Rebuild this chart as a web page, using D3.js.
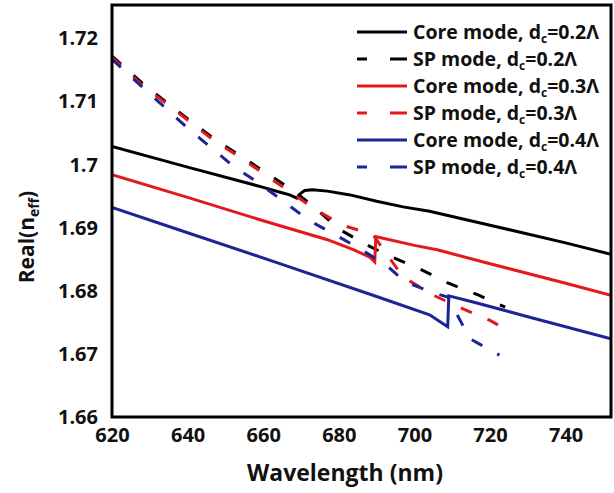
<!DOCTYPE html>
<html>
<head>
<meta charset="utf-8">
<script src="https://cdn.jsdelivr.net/npm/d3@7"></script>
<style>
body { margin: 0; background: #fff; }
text { font-family: "Open Sans", sans-serif; font-weight: bold; fill: #111; }
</style>
</head>
<body>
<svg width="614" height="493"></svg>
<script>
// values (wavelength in nm, Real(neff))
var wlCore02 = [620, 640, 660, 664, 667, 668.9, 670, 671, 673, 677, 683, 690, 697, 704, 720, 740, 752];
var nCore02  = [1.7029, 1.6996, 1.6964, 1.6957, 1.6952, 1.6947, 1.6955, 1.6959, 1.6960, 1.6958, 1.6952, 1.6942, 1.6933, 1.6926, 1.6904, 1.6876, 1.6858];

var wlSP02 = [620, 628, 635, 641, 647, 655, 661, 668, 674, 680, 687, 693, 701, 709, 717, 724];
var nSP02  = [1.7172, 1.7129, 1.7096, 1.7068, 1.7041, 1.7010, 1.6986, 1.6959, 1.6930, 1.6898, 1.6874, 1.6856, 1.6836, 1.6812, 1.6793, 1.6774];

var wlCore03 = [620, 640, 660, 677, 684, 688.3, 689.5, 689.8, 692, 700, 706, 720, 740, 752];
var nCore03  = [1.6984, 1.6948, 1.6911, 1.6881, 1.6865, 1.6853, 1.6846, 1.6886, 1.6883, 1.6872, 1.6865, 1.6843, 1.6812, 1.6793];

var wlSP03 = [620, 628, 635, 641, 647, 655, 667, 674, 681, 689, 697, 705, 713, 720, 726];
var nSP03  = [1.7170, 1.7126, 1.7094, 1.7066, 1.7038, 1.7007, 1.6957, 1.6928, 1.6904, 1.6889, 1.6822, 1.6793, 1.6771, 1.6753, 1.6733];

var wlCore04 = [620, 640, 664, 690, 704, 708.8, 709.1, 715, 730, 752];
var nCore04  = [1.6932, 1.6892, 1.6844, 1.6791, 1.6762, 1.6743, 1.6792, 1.6783, 1.6759, 1.6724];

var wlSP04 = [620, 628, 640, 646, 652, 659, 666, 672, 679, 686, 692.5, 697.5, 705, 708.8, 714.7, 722.5];
var nSP04  = [1.7167, 1.7123, 1.7058, 1.7028, 1.6998, 1.6970, 1.6939, 1.6912, 1.6889, 1.6865, 1.6841, 1.6814, 1.6797, 1.6790, 1.6724, 1.6698];

var xTicks = [620, 640, 660, 680, 700, 720, 740];
var yTicks = [1.66, 1.67, 1.68, 1.69, 1.70, 1.71, 1.72];
var yTickLabels = ["1.66", "1.67", "1.68", "1.69", "1.7", "1.71", "1.72"];

var legendNames = ["Core mode, d", "SP mode, d", "Core mode, d", "SP mode, d", "Core mode, d", "SP mode, d"];
var legendTails = ["=0.2\u039B", "=0.2\u039B", "=0.3\u039B", "=0.3\u039B", "=0.4\u039B", "=0.4\u039B"];

var red = "#e3191c", blue = "#1b2596";

var series = [
  {wl: wlCore02, n: nCore02, color: "#000", dash: null},
  {wl: wlSP02,   n: nSP02,   color: "#000", dash: "12,17"},
  {wl: wlCore03, n: nCore03, color: red,    dash: null},
  {wl: wlSP03,   n: nSP03,   color: red,    dash: "12,17"},
  {wl: wlCore04, n: nCore04, color: blue,   dash: null},
  {wl: wlSP04,   n: nSP04,   color: blue,   dash: "12,17"}
];

var svg = d3.select("svg");
var pLeft = 112, pTop = 5, pRight = 611, pBottom = 417;

var x = d3.scaleLinear().domain([620, 752]).range([pLeft, pRight]);
var y = d3.scaleLinear().domain([1.66, 1.7253]).range([pBottom, pTop]);

svg.append("clipPath").attr("id", "plot")
  .append("rect")
  .attr("x", pLeft).attr("y", pTop)
  .attr("width", pRight - pLeft).attr("height", pBottom - pTop);

var line = d3.line()
  .x(function(d) { return x(d[0]); })
  .y(function(d) { return y(d[1]); });

var g = svg.append("g").attr("clip-path", "url(#plot)");

series.forEach(function(s) {
  var pts = s.wl.map(function(w, i) { return [w, s.n[i]]; });
  g.append("path")
    .datum(pts)
    .attr("d", line)
    .attr("fill", "none")
    .attr("stroke", s.color)
    .attr("stroke-width", 3)
    .attr("stroke-dasharray", s.dash);
});

// axes without tick marks
var xAxis = svg.append("g")
  .attr("transform", "translate(0," + pBottom + ")")
  .call(d3.axisBottom(x).tickValues(xTicks).tickSize(0).tickPadding(11));
var yAxis = svg.append("g")
  .attr("transform", "translate(" + pLeft + ",0)")
  .call(d3.axisLeft(y).tickValues(yTicks).tickSize(0).tickPadding(14)
    .tickFormat(function(d, i) { return yTickLabels[i]; }));

[xAxis, yAxis].forEach(function(a) {
  a.select(".domain").remove();
  a.selectAll("text").attr("font-size", 20).attr("fill", "#111")
    .style("font-family", "'Open Sans', sans-serif").style("font-weight", "bold");
});

// frame
svg.append("rect")
  .attr("x", pLeft).attr("y", pTop)
  .attr("width", pRight - pLeft).attr("height", pBottom - pTop)
  .attr("fill", "none")
  .attr("stroke", "#000")
  .attr("stroke-width", 3);

// axis titles
svg.append("text")
  .attr("x", 345).attr("y", 481)
  .attr("text-anchor", "middle")
  .attr("font-size", 23)
  .text("Wavelength (nm)");

var yt = svg.append("text")
  .attr("transform", "translate(34,237) rotate(-90)")
  .attr("text-anchor", "middle")
  .attr("font-size", 21);
yt.append("tspan").text("Real(n");
yt.append("tspan").attr("font-size", 14).attr("dy", 5).text("eff");
yt.append("tspan").attr("dy", -5).text(")");

// legend
var legend = svg.append("g");
series.forEach(function(s, i) {
  var cy = 32 + i * 27;
  legend.append("line")
    .attr("x1", 357).attr("x2", 407)
    .attr("y1", cy).attr("y2", cy)
    .attr("stroke", s.color)
    .attr("stroke-width", 3)
    .attr("stroke-dasharray", s.dash ? "10,23,20" : null);
  var t = legend.append("text")
    .attr("x", 413).attr("y", cy + 7)
    .attr("font-size", 19.5);
  t.append("tspan").text(legendNames[i]);
  t.append("tspan").attr("font-size", 12).attr("dy", 4).text("c");
  t.append("tspan").attr("dy", -4).text(legendTails[i]);
});
</script>
</body>
</html>
